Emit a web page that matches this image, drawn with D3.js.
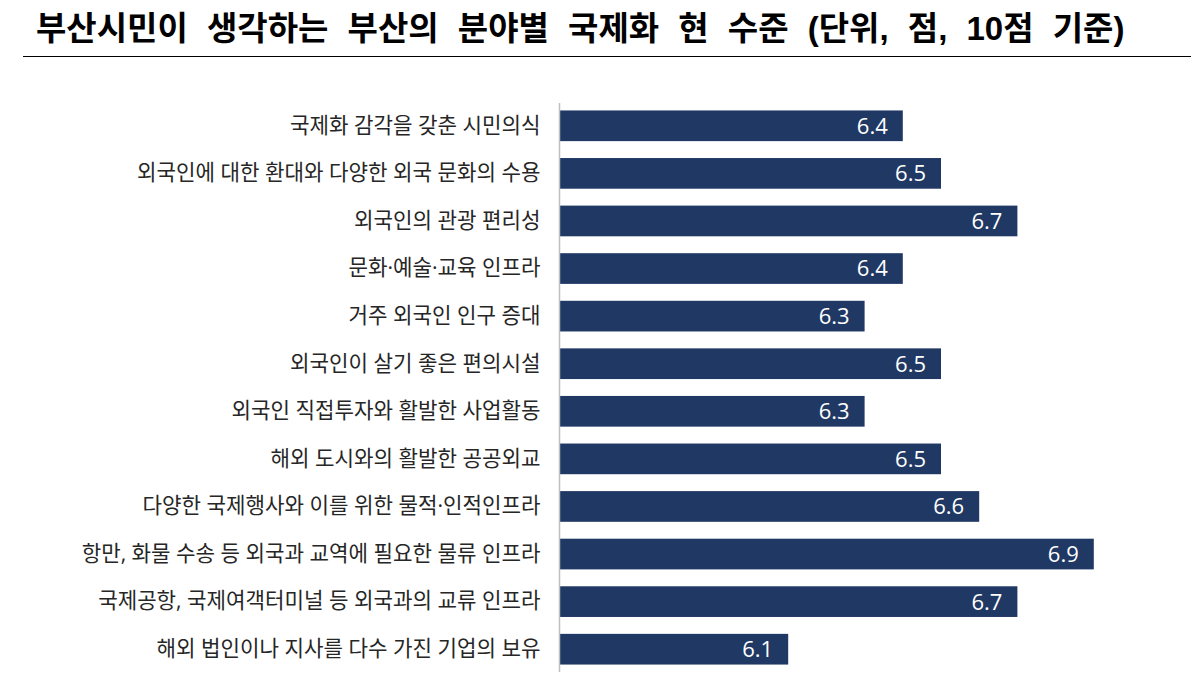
<!DOCTYPE html>
<html>
<head>
<meta charset="utf-8">
<script src="https://cdn.jsdelivr.net/npm/d3@7"></script>
<style>
  body { margin: 0; background: #fff; }
  svg { display: block; }
</style>
</head>
<body>
<div id="chart"></div>
<script>
const width = 1200;
const height = 681;

const titleText = '부산시민이 생각하는 부산의 분야별 국제화 현 수준 (단위, 점, 10점 기준)';

const categories = [
  '국제화 감각을 갖춘 시민의식',
  '외국인에 대한 환대와 다양한 외국 문화의 수용',
  '외국인의 관광 편리성',
  '문화·예술·교육 인프라',
  '거주 외국인 인구 증대',
  '외국인이 살기 좋은 편의시설',
  '외국인 직접투자와 활발한 사업활동',
  '해외 도시와의 활발한 공공외교',
  '다양한 국제행사와 이를 위한 물적·인적인프라',
  '항만, 화물 수송 등 외국과 교역에 필요한 물류 인프라',
  '국제공항, 국제여객터미널 등 외국과의 교류 인프라',
  '해외 법인이나 지사를 다수 가진 기업의 보유'
];

const values = [6.4, 6.5, 6.7, 6.4, 6.3, 6.5, 6.3, 6.5, 6.6, 6.9, 6.7, 6.1];

const svg = d3.select('#chart')
  .append('svg')
  .attr('width', width)
  .attr('height', height);

// title + rule under it
svg.append('text')
  .attr('x', 36)
  .attr('y', 40)
  .attr('font-family', '"Liberation Sans", "Noto Sans CJK KR", sans-serif')
  .attr('font-weight', 700)
  .attr('font-size', 33)
  .attr('fill', '#000')
  .style('word-spacing', '10px')
  .text(titleText);

svg.append('line')
  .attr('x1', 23)
  .attr('x2', 1191)
  .attr('y1', 56.5)
  .attr('y2', 56.5)
  .attr('stroke', '#000')
  .attr('stroke-width', 1.2);

const x = d3.scaleLinear()
  .domain([5.5, 7])
  .range([559, 1132]);

const y = d3.scaleBand()
  .domain(categories)
  .range([102, 673])
  .paddingInner(0.355)
  .paddingOuter(0.1775);

// bars
svg.append('g')
  .selectAll('rect')
  .data(values)
  .enter()
  .append('rect')
  .attr('x', x(5.5))
  .attr('y', (d, i) => y(categories[i]))
  .attr('width', d => x(d) - x(5.5))
  .attr('height', y.bandwidth())
  .attr('fill', '#203864');

// value labels inside bar ends
svg.append('g')
  .selectAll('text')
  .data(values)
  .enter()
  .append('text')
  .attr('x', d => x(d) - 15)
  .attr('y', (d, i) => y(categories[i]) + y.bandwidth() / 2)
  .attr('dy', '0.36em')
  .attr('text-anchor', 'end')
  .attr('font-family', '"Open Sans", sans-serif')
  .attr('font-size', 22)
  .attr('fill', '#fff')
  .text(d => d.toFixed(1));

// category axis: grey line at the bar base, labels right aligned
const yAxis = d3.axisLeft(y).tickSize(0).tickPadding(19);
const gy = svg.append('g')
  .attr('transform', `translate(${x(5.5) + 0.5},0)`)
  .call(yAxis);

gy.select('.domain')
  .attr('d', `M0,${y.range()[0] + 1}V${y.range()[1] - 1}`)
  .attr('stroke', '#bfbfbf')
  .attr('stroke-width', 1.5);

gy.selectAll('text')
  .attr('font-family', '"Open Sans", "Noto Sans CJK KR", sans-serif')
  .attr('font-size', 21.2)
  .attr('fill', '#262626');
</script>
</body>
</html>
